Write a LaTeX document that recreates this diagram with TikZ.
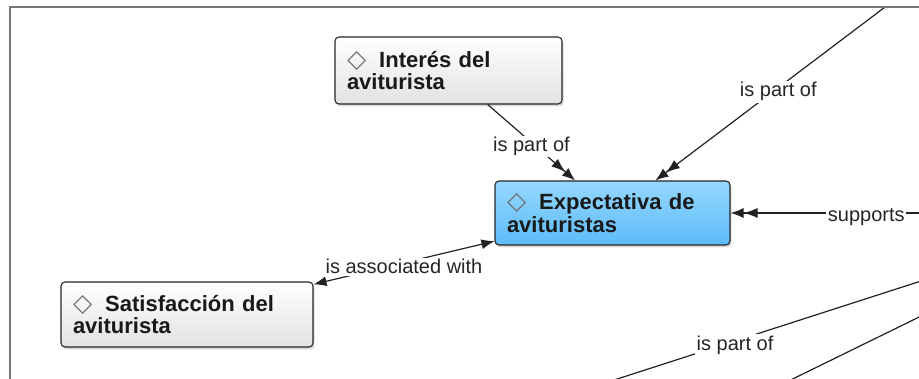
\documentclass[tikz,border=0pt]{standalone}
\usepackage{fontspec}
\usepackage{xcolor}
\setmainfont{Liberation Sans}
\newfontfamily\markfont{DejaVu Sans}
\usetikzlibrary{arrows.meta, shadows, calc}
\definecolor{conceptgray}{HTML}{E2E2E2}
\definecolor{conceptbluetop}{HTML}{96D7FF}
\definecolor{conceptblue}{HTML}{5CBCF8}
\definecolor{linkgray}{HTML}{222222}
\definecolor{framegray}{HTML}{767676}
\tikzstyle{concept} = [rectangle, rounded corners=4pt, draw=black!85, line width=1.1pt, top color=white, bottom color=conceptgray, inner xsep=12pt, inner ysep=0pt, align=left, text=black!90, font=\bfseries\fontsize{22}{22.5}\selectfont, drop shadow={shadow xshift=1.5pt, shadow yshift=-2.5pt, opacity=0.3}]
\tikzstyle{selected} = [top color=conceptbluetop, bottom color=conceptblue]
\tikzstyle{linkphrase} = [fill=white, inner sep=1.5pt, yshift=-4pt, text=black!85, font=\fontsize{20}{24}\selectfont]
\tikzstyle{link} = [line width=1.2pt, draw=linkgray]
\tikzstyle{arrow} = [link, -{Latex[length=14pt,width=10pt]Latex[length=13pt,width=10pt]}]
\tikzstyle{twoway} = [link, {Latex[length=13pt,width=10pt]}-{Latex[length=13pt,width=10pt]}]
\newcommand{\conceptmark}{{\markfont\mdseries\fontsize{25}{22.5}\selectfont\color{black!55}◇}\hspace{13pt}}

\begin{document}
\begin{tikzpicture}[x=1pt,y=-1pt]
      \useasboundingbox (0,0) rectangle (919,379);

      \begin{scope}
      \clip (10,7) rectangle (919,379);

      % Concepts
      \node[concept, text width=203pt, minimum height=67pt] (interes) at (448.5,70.5) {\conceptmark Interés del\\aviturista};
      \node[concept, selected, text width=211pt, minimum height=64pt] (expect) at (612.5,213) {\conceptmark Expectativa de\\avituristas};
      \node[concept, text width=228pt, minimum height=65pt] (satisf) at (187,314.5) {\conceptmark Satisfacción del\\aviturista};

      % Ends of links leaving the view
      \coordinate (upper) at (901,-5);
      \coordinate (right) at (1002,213);
      \coordinate (lowerA) at (980,262);
      \coordinate (lowerB) at (490,420);
      \coordinate (lowerC) at (960,297);
      \coordinate (lowerD) at (760,395);

      % Links
      \draw[arrow] (interes) -- node[linkphrase] {is part of} (expect);
      \draw[arrow] (upper) -- node[linkphrase] {is part of} (expect);
      \draw[arrow] (right) -- node[linkphrase] {supports} (expect);
      \draw[twoway] (satisf) -- node[linkphrase] {is associated with} (expect);
      \draw[link] (lowerA) -- node[linkphrase] {is part of} (lowerB);
      \draw[link] (lowerC) -- (lowerD);
      \end{scope}

      % Frame
      \draw[framegray, line width=2pt] (10,379) -- (10,7) -- (919,7);
    \end{tikzpicture}
\end{document}
